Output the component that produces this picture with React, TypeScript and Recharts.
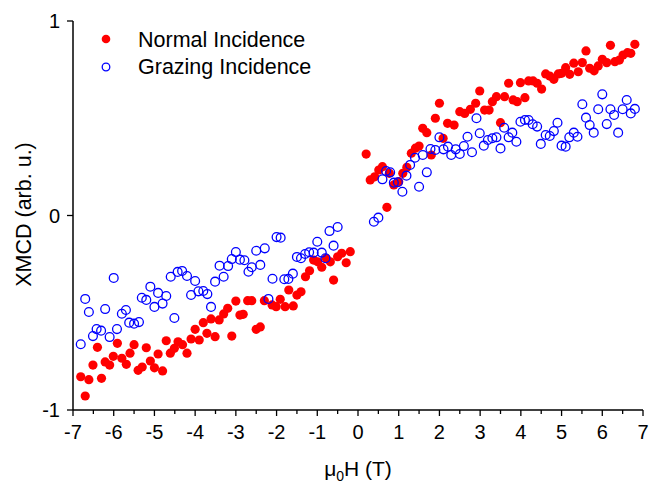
import React from 'react';
import { ScatterChart, Scatter, XAxis, YAxis } from 'recharts';

const normalX = [-6.81,-6.70,-6.61,-6.51,-6.40,-6.30,-6.21,-6.10,-6.01,-5.91,-5.80,-5.69,-5.60,-5.50,-5.40,-5.30,-5.20,-5.10,-5.00,-4.91,-4.80,-4.71,-4.61,-4.51,-4.42,-4.31,-4.20,-4.10,-4.00,-3.90,-3.80,-3.71,-3.61,-3.51,-3.41,-3.30,-3.20,-3.10,-3.00,-2.90,-2.82,-2.71,-2.61,-2.50,-2.40,-2.30,-2.11,-2.01,-1.91,-1.79,-1.70,-1.59,-1.50,-1.40,-1.29,-1.19,-1.09,-0.99,-0.89,-0.78,-0.68,-0.60,-0.50,-0.40,-0.29,-0.19,0.20,0.30,0.41,0.51,0.60,0.71,0.77,0.88,1.00,1.10,1.20,1.31,1.41,1.50,1.59,1.69,1.80,1.90,2.00,2.09,2.20,2.36,2.50,2.62,2.76,2.89,2.99,3.11,3.22,3.30,3.40,3.50,3.60,3.70,3.81,3.91,3.99,4.10,4.19,4.30,4.40,4.51,4.61,4.71,4.81,4.92,5.00,5.10,5.20,5.30,5.41,5.51,5.60,5.69,5.80,5.90,6.00,6.11,6.20,6.31,6.42,6.51,6.62,6.70,6.80];
const normalY = [-0.829,-0.928,-0.844,-0.769,-0.678,-0.837,-0.753,-0.769,-0.724,-0.657,-0.734,-0.765,-0.708,-0.664,-0.796,-0.779,-0.680,-0.748,-0.783,-0.712,-0.799,-0.644,-0.708,-0.683,-0.649,-0.664,-0.708,-0.635,-0.585,-0.640,-0.551,-0.606,-0.532,-0.623,-0.537,-0.506,-0.477,-0.620,-0.440,-0.512,-0.508,-0.438,-0.438,-0.585,-0.573,-0.438,-0.460,-0.469,-0.431,-0.469,-0.383,-0.465,-0.409,-0.392,-0.315,-0.284,-0.229,-0.238,-0.266,-0.220,-0.238,-0.332,-0.212,-0.194,-0.243,-0.186,0.316,0.183,0.199,0.234,0.251,0.042,0.217,0.157,0.174,0.217,0.248,0.320,0.346,0.357,0.448,0.426,0.311,0.500,0.577,0.397,0.474,0.465,0.534,0.525,0.546,0.577,0.640,0.542,0.542,0.585,0.611,0.477,0.611,0.680,0.594,0.585,0.683,0.606,0.692,0.692,0.680,0.650,0.728,0.717,0.700,0.728,0.731,0.760,0.726,0.783,0.739,0.786,0.846,0.757,0.744,0.769,0.803,0.786,0.875,0.791,0.799,0.825,0.837,0.834,0.880];

const grazingX = [-6.81,-6.70,-6.61,-6.51,-6.42,-6.31,-6.21,-6.10,-6.00,-5.92,-5.80,-5.70,-5.62,-5.50,-5.38,-5.31,-5.20,-5.10,-5.00,-4.91,-4.80,-4.71,-4.60,-4.51,-4.43,-4.32,-4.20,-4.10,-4.00,-3.92,-3.80,-3.70,-3.61,-3.51,-3.40,-3.30,-3.19,-3.10,-3.00,-2.90,-2.79,-2.69,-2.61,-2.50,-2.40,-2.29,-2.20,-2.10,-2.00,-1.90,-1.81,-1.71,-1.60,-1.50,-1.40,-1.30,-1.20,-1.09,-1.00,-0.89,-0.80,-0.70,-0.60,-0.50,0.39,0.50,0.60,0.69,0.79,0.88,0.98,1.09,1.19,1.28,1.40,1.50,1.59,1.69,1.78,1.90,2.00,2.10,2.21,2.29,2.40,2.50,2.60,2.69,2.80,2.91,2.99,3.09,3.19,3.30,3.40,3.50,3.59,3.70,3.79,3.89,3.99,4.10,4.19,4.29,4.40,4.49,4.61,4.71,4.81,4.90,5.00,5.10,5.19,5.30,5.39,5.51,5.60,5.69,5.79,5.90,6.00,6.11,6.20,6.29,6.39,6.50,6.60,6.70,6.80];
const grazingY = [-0.662,-0.429,-0.496,-0.620,-0.584,-0.592,-0.481,-0.625,-0.321,-0.584,-0.505,-0.486,-0.551,-0.556,-0.548,-0.423,-0.434,-0.366,-0.470,-0.398,-0.453,-0.414,-0.315,-0.527,-0.290,-0.285,-0.311,-0.409,-0.337,-0.390,-0.388,-0.404,-0.470,-0.340,-0.258,-0.315,-0.260,-0.224,-0.188,-0.227,-0.230,-0.289,-0.266,-0.181,-0.254,-0.169,-0.429,-0.325,-0.111,-0.114,-0.328,-0.326,-0.299,-0.213,-0.220,-0.198,-0.189,-0.191,-0.135,-0.191,-0.220,-0.080,-0.155,-0.059,-0.032,-0.011,0.186,0.229,0.222,0.169,0.171,0.122,0.205,0.260,0.297,0.148,0.311,0.222,0.342,0.337,0.402,0.340,0.354,0.311,0.340,0.316,0.357,0.405,0.325,0.500,0.423,0.359,0.388,0.397,0.402,0.345,0.451,0.402,0.426,0.379,0.482,0.491,0.491,0.469,0.457,0.368,0.414,0.409,0.434,0.477,0.359,0.354,0.402,0.426,0.405,0.572,0.503,0.465,0.426,0.546,0.623,0.470,0.546,0.517,0.426,0.546,0.594,0.525,0.548];

const xTicks = [-7,-6.5,-6,-5.5,-5,-4.5,-4,-3.5,-3,-2.5,-2,-1.5,-1,-0.5,0,0.5,1,1.5,2,2.5,3,3.5,4,4.5,5,5.5,6,6.5,7];
const yTicks = [-1, 0, 1];
const seriesNames = ['Normal Incidence', 'Grazing Incidence'];

const normalData = normalX.map((x, i) => ({ x, y: normalY[i] }));
const grazingData = grazingX.map((x, i) => ({ x, y: grazingY[i] }));

const FONT = '"Liberation Sans", Arial, sans-serif';
const RED = '#ff0000';
const BLUE = '#0000ff';

const XTick = (props: any) => {
  const { x, y, payload } = props;
  const v = payload.value;
  const major = Number.isInteger(v);
  return (
    <g>
      <line x1={x} x2={x} y1={y} y2={y + (major ? 6 : 4)} stroke="#000" strokeWidth={1.3} />
      {major && (
        <text x={x} y={y + 29} textAnchor="middle" fontSize={20} fontFamily={FONT} fill="#000">
          {String(v)}
        </text>
      )}
    </g>
  );
};

const YTick = (props: any) => {
  const { x, y, payload } = props;
  return (
    <g>
      <line x1={x - 6} x2={x} y1={y} y2={y} stroke="#000" strokeWidth={1.3} />
      <text x={x - 13} y={y + 7} textAnchor="end" fontSize={20} fontFamily={FONT} fill="#000">
        {String(payload.value)}
      </text>
    </g>
  );
};

const RedDot = (p: any) => <circle cx={p.cx} cy={p.cy} r={4.6} fill={RED} />;
const BlueRing = (p: any) => (
  <circle cx={p.cx} cy={p.cy} r={4.4} fill="none" stroke={BLUE} strokeWidth={1.3} />
);

const XLabel = (props: any) => {
  const { x, width, y } = props.viewBox;
  return (
    <text x={x + width / 2} y={y + 66} textAnchor="middle" fontSize={21} fontFamily={FONT} fill="#000">
      μ<tspan fontSize={14} dy={5}>0</tspan>
      <tspan dy={-5}>H (T)</tspan>
    </text>
  );
};

const YLabel = (props: any) => {
  const { y, height } = props.viewBox;
  const cx = 31;
  const cy = y + height / 2 - 1;
  return (
    <text x={cx} y={cy} transform={`rotate(-90 ${cx} ${cy})`} textAnchor="middle" fontSize={21.5} fontFamily={FONT} fill="#000">
      XMCD (arb. u.)
    </text>
  );
};

const LegendBox = () => (
  <svg width={260} height={70} style={{ position: 'absolute', left: 73, top: 21, overflow: 'visible' }}>
    <circle cx={33} cy={18} r={4.3} fill={RED} />
    <text x={65} y={26} fontSize={21.5} fontFamily={FONT} fill="#000">{seriesNames[0]}</text>
    <circle cx={33} cy={46} r={3.8} fill="none" stroke={BLUE} strokeWidth={1.3} />
    <text x={65} y={53} fontSize={21.5} fontFamily={FONT} fill="#000">{seriesNames[1]}</text>
  </svg>
);

export default function App() {
  return (
    <div style={{ position: 'absolute', left: 0, top: 0, width: 654, height: 485, background: '#fff' }}>
      <ScatterChart width={654} height={485} margin={{ top: 21, right: 11, bottom: 15, left: 23 }}>
        <XAxis
          type="number"
          dataKey="x"
          domain={[-7, 7]}
          ticks={xTicks}
          interval={0}
          tick={<XTick />}
          tickLine={false}
          tickSize={0}
          tickMargin={0}
          height={60}
          axisLine={{ stroke: '#000', strokeWidth: 1.5 }}
          label={<XLabel />}
          allowDataOverflow
        />
        <YAxis
          type="number"
          dataKey="y"
          domain={[-1, 1]}
          ticks={yTicks}
          interval={0}
          tick={<YTick />}
          tickLine={false}
          tickSize={0}
          tickMargin={0}
          width={50}
          axisLine={{ stroke: '#000', strokeWidth: 1.5 }}
          label={<YLabel />}
          allowDataOverflow
        />
        <Scatter name={seriesNames[0]} data={normalData} shape={<RedDot />} isAnimationActive={false} />
        <Scatter name={seriesNames[1]} data={grazingData} shape={<BlueRing />} isAnimationActive={false} />
      </ScatterChart>
      <LegendBox />
    </div>
  );
}
